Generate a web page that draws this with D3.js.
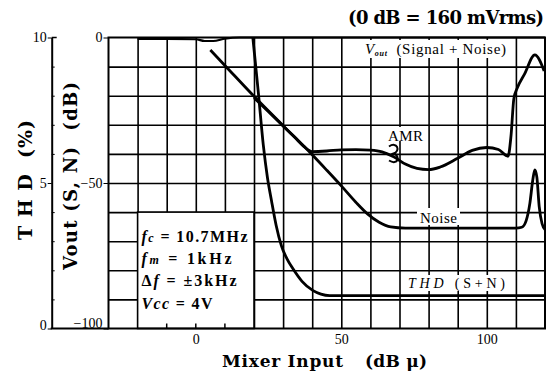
<!DOCTYPE html>
<html><head><meta charset="utf-8">
<script src="https://cdn.jsdelivr.net/npm/d3@7"></script>
<style>
body{margin:0;background:#fff}
svg{display:block}
text{font-family:"Liberation Serif","Times New Roman",serif;fill:#000}
.ttl{font-family:"DejaVu Serif",serif;font-weight:bold}
</style>
</head><body>
<svg id="c" width="550" height="380"></svg>
<script>
// ---- data ----
const xTickLabels = [0, 50, 100];
const voutTickLabels = [0, -50, -100];
const thdTickLabels = [0, 5, 10];

const voutX = [-20, -10, 0, 3, 6, 10, 15, 30, 60, 90, 120];
const voutY = [-0.5, -0.5, -0.6, -1.2, -1.2, -0.4, 0, 0, 0, 0, 0];

const noiseX = [5, 10, 20, 30, 40, 45, 50, 55, 59, 63, 67, 72, 80, 100, 110, 112, 113.5, 114.8, 115.8, 116.5, 117.2, 118, 119, 120];
const noiseY = [-4.3, -9.6, -20.2, -30.3, -40.3, -45.6, -51, -56.6, -60.6, -63.5, -65.1, -65.5, -65.5, -65.5, -65.5, -65.2, -63, -57, -49, -45.5, -48, -58, -64, -66];

const amrX = [20, 25, 30, 34, 37, 40, 45, 50, 55, 60, 64, 68, 72, 76, 80, 84, 90, 95, 100, 104, 107.3, 108.3, 109.3, 110.5, 113, 116.5, 119.7];
const amrY = [-20.7, -25.5, -30.4, -34.3, -37.3, -39.2, -39, -38.6, -38.5, -38.7, -39.3, -41, -43.5, -45, -45.4, -44.5, -41.5, -38.8, -37.8, -38.5, -40.8, -34, -21, -17.3, -12.5, -6, -11.5];

const thdX = [19.6, 21.5, 23.2, 24.6, 26, 27.6, 29.4, 31.3, 33.4, 36.5, 40.3, 43, 46, 120];
const thdY = [10, 8.1, 6.3, 5.2, 4.4, 3.55, 2.85, 2.4, 2.05, 1.62, 1.3, 1.18, 1.13, 1.13];

// ---- layout ----
const svg = d3.select("#c");
const X0 = 108.5, X1 = 545, Y0 = 37.5, Y1 = 328.5, TX = 51.7;
const x = d3.scaleLinear().domain([-30, 120]).range([X0, X1]);
const yV = d3.scaleLinear().domain([-100, 0]).range([Y1, Y0]);
const yT = d3.scaleLinear().domain([0, 10]).range([Y1, Y0]);

const blk = g => g.selectAll("line,path").attr("stroke", "#000");

// grid
svg.append("g").attr("transform", `translate(0,${Y1})`)
  .call(d3.axisBottom(x).tickValues(d3.range(-20, 120, 10)).tickSize(-(Y1 - Y0)).tickFormat(""))
  .call(g => g.select(".domain").remove())
  .call(g => g.selectAll("line").attr("stroke", "#000").attr("stroke-width", 1.6));
svg.append("g").attr("transform", `translate(${X0},0)`)
  .call(d3.axisLeft(yV).tickValues(d3.range(-90, 0, 10)).tickSize(-(X1 - X0)).tickFormat(""))
  .call(g => g.select(".domain").remove())
  .call(g => g.selectAll("line").attr("stroke", "#000").attr("stroke-width", 1.6));

// legend box (covers grid)
svg.append("rect")
  .attr("x", x(-20)).attr("y", yV(-60))
  .attr("width", x(20) - x(-20)).attr("height", yV(-100) - yV(-60))
  .attr("fill", "#fff").attr("stroke", "#000").attr("stroke-width", 1.6);
svg.append("g").selectAll("line").data([-10, 0, 10]).join("line")
  .attr("x1", d => x(d)).attr("x2", d => x(d)).attr("y1", Y1).attr("y2", Y1 - 5)
  .attr("stroke", "#000").attr("stroke-width", 1.5);

// label backgrounds
function bg(xa, ya, w, h) {
  svg.append("rect").attr("x", xa).attr("y", ya).attr("width", w).attr("height", h).attr("fill", "#fff");
}
bg(362, 40, 150, 18);   // Vout label
bg(417, 208, 43, 17);   // Noise
bg(405, 275, 104, 16);  // THD label
bg(385, 127, 41, 14);   // AMR

// frame
svg.append("rect").attr("x", X0).attr("y", Y0).attr("width", X1 - X0).attr("height", Y1 - Y0)
  .attr("fill", "none").attr("stroke", "#000").attr("stroke-width", 2);

// Vout axis labels
svg.append("g").attr("transform", `translate(${X0},0)`)
  .call(d3.axisLeft(yV).tickValues(voutTickLabels).tickSize(5).tickPadding(1).tickSizeOuter(0))
  .call(g => g.select(".domain").remove())
  .call(blk)
  .call(g => g.selectAll("text").attr("font-size", 14).attr("font-family", "Liberation Serif")
    .attr("dy", d => d === -100 ? "-0.05em" : "0.32em"));

// THD axis
svg.append("g").attr("transform", `translate(${TX},0)`)
  .call(d3.axisLeft(yT).tickValues(thdTickLabels).tickSize(4).tickPadding(1).tickSizeOuter(0))
  .call(blk)
  .call(g => g.select(".domain").attr("stroke-width", 2))
  .call(g => g.selectAll("text").attr("font-size", 14).attr("font-family", "Liberation Serif")
    .attr("dy", d => d === 0 ? "0.1em" : "0.32em"));
svg.append("g").attr("transform", `translate(${TX},0)`)
  .call(d3.axisRight(yT).tickValues(d3.range(1, 10).filter(d => d !== 5)).tickSize(3).tickFormat("").tickSizeOuter(0))
  .call(g => g.select(".domain").remove())
  .call(blk);
svg.append("line").attr("x1", TX).attr("x2", TX + 5).attr("y1", Y0).attr("y2", Y0).attr("stroke", "#000").attr("stroke-width", 1.5);
svg.append("line").attr("x1", TX - 1).attr("x2", X0).attr("y1", Y1).attr("y2", Y1).attr("stroke", "#000").attr("stroke-width", 2);

// x axis labels
svg.append("g").attr("transform", `translate(0,${Y1})`)
  .call(d3.axisBottom(x).tickValues(xTickLabels).tickSize(0).tickPadding(6))
  .call(g => g.select(".domain").remove())
  .call(g => g.selectAll("text").attr("font-size", 14).attr("font-family", "Liberation Serif"));

// curves
const lineV = d3.line().x(d => x(d[0])).y(d => yV(d[1])).curve(d3.curveMonotoneX);
const lineT = d3.line().x(d => x(d[0])).y(d => yT(d[1])).curve(d3.curveMonotoneX);
function draw(xs, ys, gen, w) {
  svg.append("path").datum(d3.zip(xs, ys)).attr("d", gen)
    .attr("fill", "none").attr("stroke", "#000").attr("stroke-width", w)
    .attr("stroke-linejoin", "round");
}
draw(voutX, voutY, lineV, 2.2);
draw(noiseX, noiseY, lineV, 2.8);
draw(amrX, amrY, lineV, 2.8);
draw(thdX, thdY, lineT, 2.8);

// AMR marker
svg.append("path")
  .attr("d", "M389,146.5 C397,141 401,151 393.5,153.5 C401,156 398,166 389,160.5")
  .attr("fill", "none").attr("stroke", "#000").attr("stroke-width", 2);

// texts
function T(txt, xx, yy, size, opts = {}) {
  const t = svg.append("text").attr("x", xx).attr("y", yy).attr("font-size", size)
    .style("white-space", "pre").text(txt);
  if (opts.cls) t.attr("class", opts.cls);
  if (opts.bold) t.attr("font-weight", "bold");
  if (opts.italic) t.attr("font-style", "italic");
  if (opts.len) t.attr("textLength", opts.len).attr("lengthAdjust", "spacing");
  if (opts.anchor) t.attr("text-anchor", opts.anchor);
  if (opts.transform) t.attr("transform", opts.transform);
  return t;
}
T("(0 dB = 160 mVrms)", 348, 24, 18, {cls: "ttl", len: 196});

// Vout label
{
  const t = svg.append("text").attr("x", 365).attr("y", 53.5).attr("font-size", 15).style("white-space", "pre");
  t.append("tspan").attr("font-style", "italic").text("V");
  t.append("tspan").attr("font-style", "italic").attr("font-size", 8).attr("font-weight", "bold").attr("dy", 2).text("out");
  t.append("tspan").attr("dy", -2).text("  (Signal + Noise)");
  t.attr("textLength", 141).attr("lengthAdjust", "spacing");
}
T("AMR", 388, 140.5, 15, {len: 35});
T("Noise", 420, 223, 15, {len: 37});
{
  const t = svg.append("text").attr("x", 408).attr("y", 288).attr("font-size", 14).style("white-space", "pre");
  t.append("tspan").attr("font-style", "italic").text("THD");
  t.append("tspan").text(" (S+N)");
  t.attr("textLength", 97).attr("lengthAdjust", "spacing");
}

// legend lines
const legX = 141.5;
function leg(yy, len, parts) {
  const t = svg.append("text").attr("x", legX).attr("y", yy).attr("font-size", 16).attr("font-weight", "bold").style("white-space", "pre");
  parts.forEach(p => {
    const s = t.append("tspan").text(p.t);
    if (p.i) s.attr("font-style", "italic");
    if (p.s) s.attr("font-size", p.s);
  });
  t.attr("textLength", len).attr("lengthAdjust", "spacing");
}
leg(242, 106, [{t: "f", i: 1}, {t: "c", i: 1, s: 12}, {t: " = 10.7MHz"}]);
leg(264, 90, [{t: "f", i: 1}, {t: "m", i: 1, s: 12}, {t: " = 1kHz"}]);
leg(286, 95, [{t: "Δ"}, {t: "f", i: 1}, {t: " = ±3kHz"}]);
leg(308.5, 71, [{t: "Vcc", i: 1}, {t: " = 4V"}]);

// axis titles
T("T H D  (%)", 0, 0, 19, {cls: "ttl", len: 120, anchor: "middle", transform: "translate(32,180) rotate(-90)"});
T("Vout (S, N)  (dB)", 0, 0, 18, {cls: "ttl", len: 188, anchor: "middle", transform: "translate(77,176) rotate(-90)"});
T("Mixer Input", 222, 367, 17, {cls: "ttl", len: 121});
T("(dB μ)", 365, 367, 17, {cls: "ttl", len: 62});
</script>
</body></html>
